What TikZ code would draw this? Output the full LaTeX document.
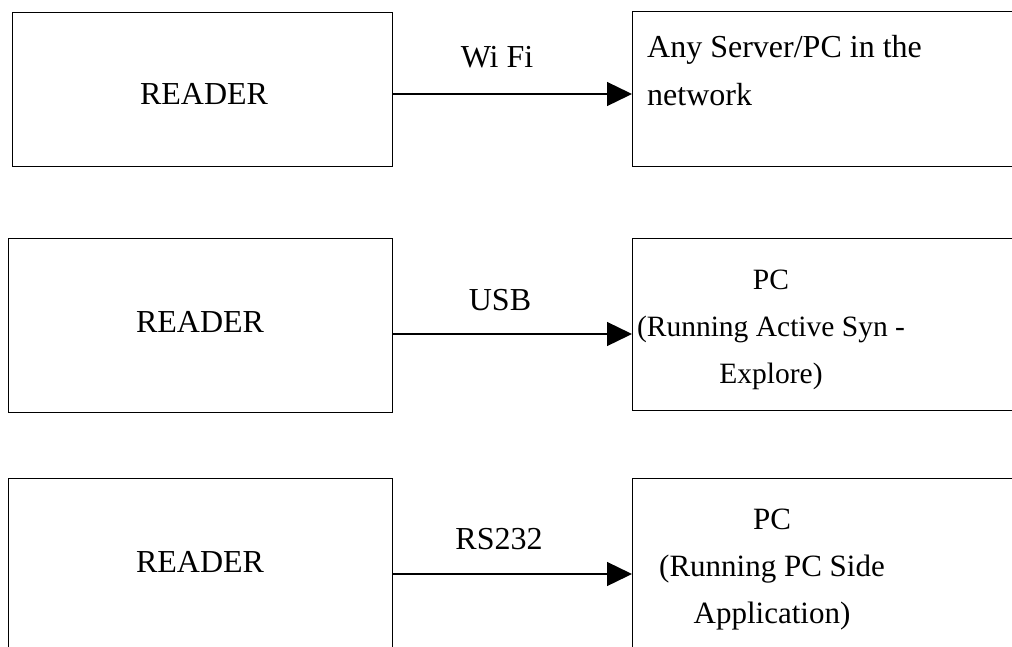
\documentclass[tikz,border=0pt]{standalone}
\usepackage{fontspec}
\setmainfont{Liberation Serif}
\usetikzlibrary{arrows.meta}
\begin{document}
\begin{tikzpicture}[x=1pt,y=-1pt,
  box/.style={draw,line width=1.3pt,rectangle,inner sep=0pt,anchor=north west},
  txt/.style={inner sep=0pt,font=\fontsize{32}{48}\selectfont},
  arr/.style={line width=1.3pt,-{Triangle[length=25pt,width=24pt]}}]
\useasboundingbox (0,0) rectangle (1012,646);
\clip (0,0) rectangle (1012,646);
% row 1
\node[box,minimum width=380pt,minimum height=154pt] (L1) at (12,12) {};
\node[box,minimum width=400pt,minimum height=155pt] (R1) at (632,11) {};
\node[txt] (tL1) at (204,94) {READER};
\node[txt,anchor=west,align=left] (tR1) at (647,71) {Any Server/PC in the\\network};
\node[txt] (lab1) at (497,57) {Wi Fi};
\coordinate (a1) at (0,94);
\draw[arr] (L1.east |- a1) -- (R1.west |- a1);
% row 2
\node[box,minimum width=384pt,minimum height=174pt] (L2) at (8,238) {};
\node[box,minimum width=400pt,minimum height=172pt] (R2) at (632,238) {};
\node[txt] (tL2) at (200,322) {READER};
\node[txt,align=center,font=\fontsize{29.5}{47}\selectfont] (tR2) at (771,330) {PC\\(Running Active Syn -\\Explore)};
\node[txt] (lab2) at (500,300) {USB};
\coordinate (a2) at (0,334);
\draw[arr] (L2.east |- a2) -- (R2.west |- a2);
% row 3
\node[box,minimum width=384pt,minimum height=180pt] (L3) at (8,478) {};
\node[box,minimum width=400pt,minimum height=180pt] (R3) at (632,478) {};
\node[txt] (tL3) at (200,562) {READER};
\node[txt,align=center,font=\fontsize{31}{47}\selectfont] (tR3) at (772,570) {PC\\(Running PC Side\\Application)};
\node[txt] (lab3) at (499,539) {RS232};
\coordinate (a3) at (0,574);
\draw[arr] (L3.east |- a3) -- (R3.west |- a3);
\end{tikzpicture}
\end{document}
